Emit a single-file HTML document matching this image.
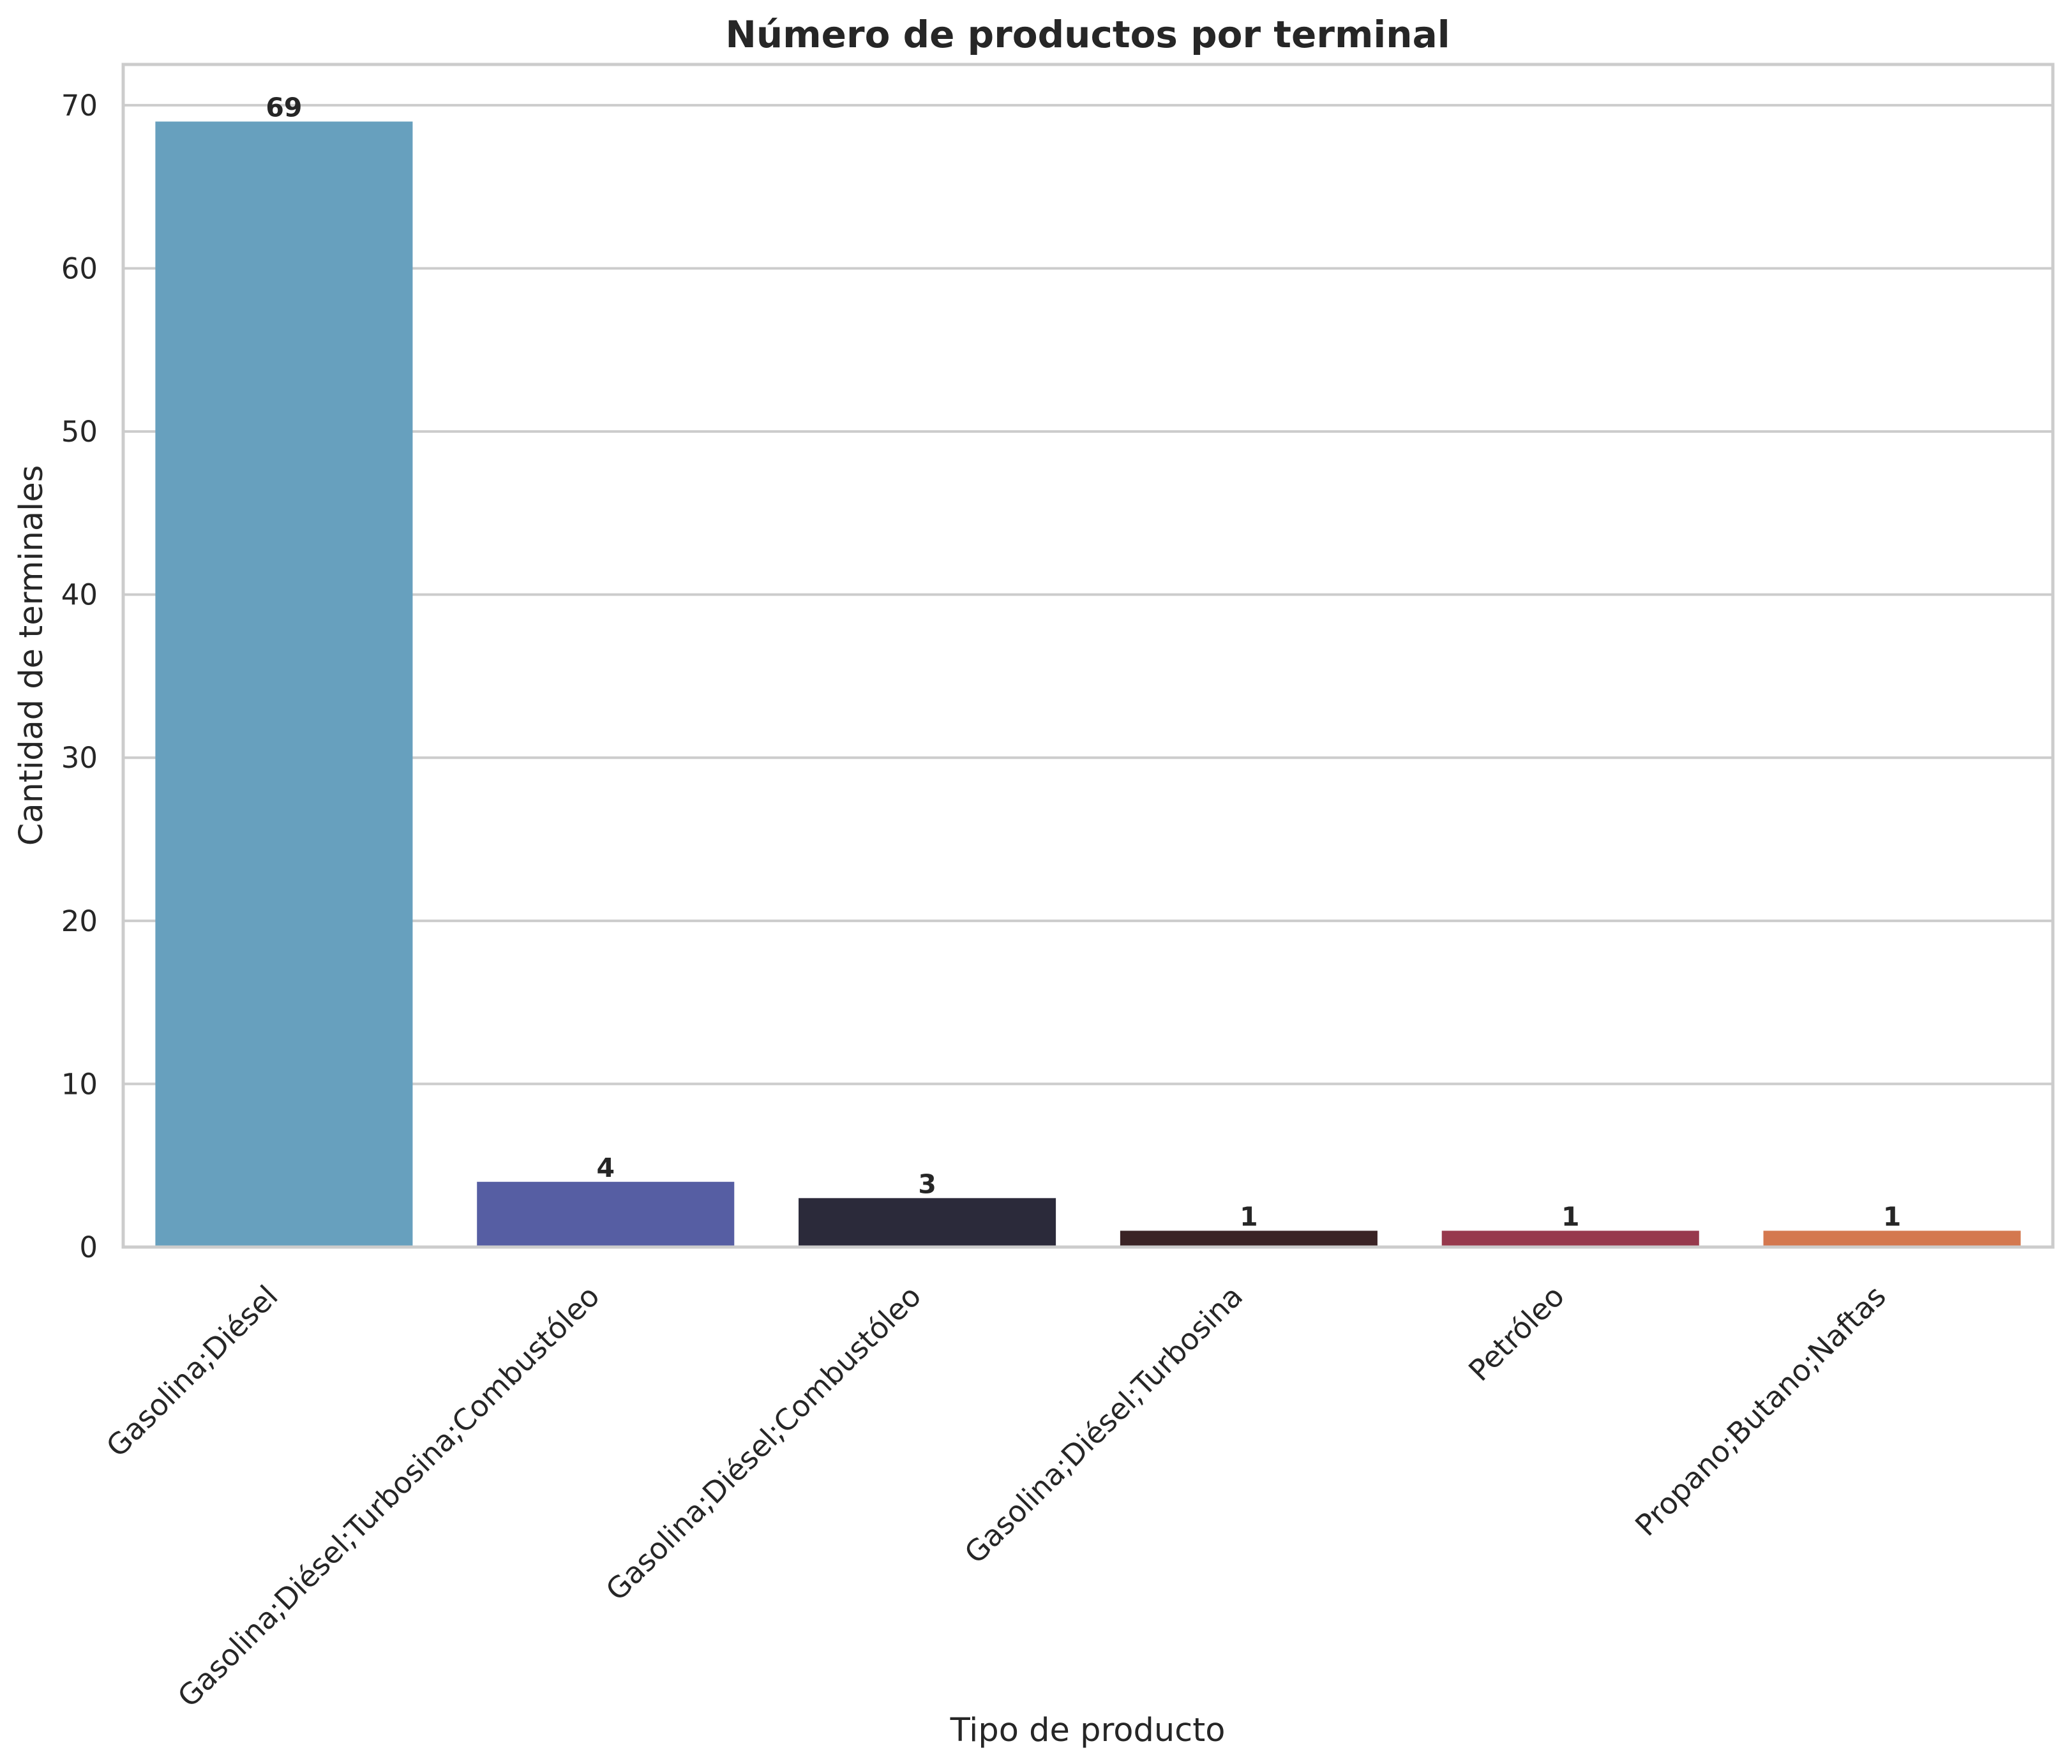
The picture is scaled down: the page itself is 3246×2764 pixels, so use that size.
<!DOCTYPE html>
<html><head><meta charset="utf-8"><style>
html,body{margin:0;padding:0;background:#fff;}
svg{display:block;font-family:"DejaVu Sans","Liberation Sans",sans-serif;}
</style></head><body>
<svg id="chart" width="3246" height="2764" viewBox="0 0 3246 2764" xmlns="http://www.w3.org/2000/svg">
<rect width="3246" height="2764" fill="#fff"/>
<g id="grid"></g>
<g id="bars"></g>
<g id="spines"></g>
<g id="labels"></g>
<text x="1704" y="74" text-anchor="middle" font-size="58" font-weight="bold" fill="#262626">Número de productos por terminal</text>
<text transform="translate(66,1027) rotate(-90)" text-anchor="middle" font-size="51" fill="#262626">Cantidad de terminales</text>
<text x="1704" y="2728" text-anchor="middle" font-size="51" fill="#262626">Tipo de producto</text>
</svg>
<script>
const categories = ["Gasolina;Diésel","Gasolina;Diésel;Turbosina;Combustóleo","Gasolina;Diésel;Combustóleo","Gasolina;Diésel;Turbosina","Petróleo","Propano;Butano;Naftas"];
const values = [69,4,3,1,1,1];
const colors = ["#67a0be","#565ea3","#2b2a3a","#3a2325","#97394d","#d4784f"];
const yTicks = [0,10,20,30,40,50,60,70];

const L=193,R=3216,T=101,B=1954,yMax=72.5;
const NS="http://www.w3.org/2000/svg";
const y = v => B - v*(B-T)/yMax;
const slot = (R-L)/categories.length;
const x = i => L + slot*(i+0.5);
function mk(tag, attrs, parent){const e=document.createElementNS(NS,tag);for(const k in attrs)e.setAttribute(k,attrs[k]);parent.appendChild(e);return e;}
const grid=document.getElementById('grid'),bars=document.getElementById('bars'),spines=document.getElementById('spines'),labels=document.getElementById('labels');

yTicks.forEach(t=>{
  const g=mk('line',{x1:L,x2:R,y1:y(t),y2:y(t),stroke:'#cccccc','stroke-width':4},grid);
  
  
  const tx=mk('text',{x:L-40,y:y(t)+16,'text-anchor':'end','font-size':45,fill:'#262626'},labels);
  tx.textContent=t;
  
  
});
categories.forEach((c,i)=>{
  const w=slot*0.8;
  const r=mk('rect',{x:x(i)-w/2,y:y(values[i]),width:w,height:B-y(values[i]),fill:colors[i]},bars);
  
  
  const v=mk('text',{x:x(i),y:y(values[i])-8,'text-anchor':'middle','font-size':41,'font-weight':'bold',fill:'#262626'},labels);
  v.textContent=values[i];
  
  
  const px=x(i)-7,py=2034;
  const tl=mk('text',{x:px,y:py,'text-anchor':'end','font-size':46,fill:'#262626',transform:`rotate(-45 ${px} ${py})`},labels);
  tl.textContent=c;
  
  
});
const sp=mk('rect',{x:L,y:T,width:R-L,height:B-T,fill:'none',stroke:'#cccccc','stroke-width':5},spines);


</script>
</body></html>
